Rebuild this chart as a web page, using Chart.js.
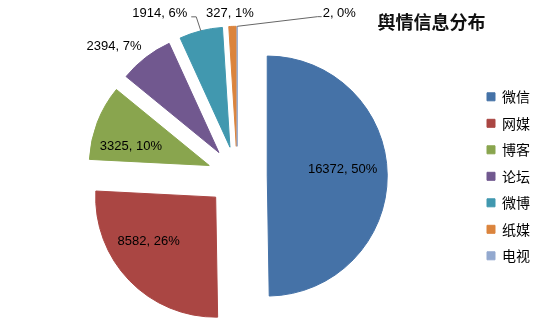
<!DOCTYPE html>
<html>
<head>
<meta charset="utf-8">
<script src="https://cdn.jsdelivr.net/npm/chart.js@4.4.0/dist/chart.umd.min.js"></script>
<style>
  body { margin: 0; background: #fff; }
</style>
</head>
<body>
<canvas id="sentimentPie" width="542" height="323"></canvas>
<script>
var sources = ['微信', '网媒', '博客', '论坛', '微博', '纸媒', '电视'];
var counts = [16372, 8582, 3325, 2394, 1914, 327, 2];
var sliceColors = ['#4572A7', '#AA4643', '#89A54E', '#71588F', '#4198AF', '#DB843D', '#93A9CF'];

// every slice is pulled out from the middle by this much (px)
var EXPLODE = 30;

// where the value labels sit: angle clockwise from 12 o'clock, distance in radii
var labelSpots = [
    {angle: 86, dist: 0.88},
    {angle: 233.6, dist: 0.917},
    {angle: 285.6, dist: 0.92},
    {angle: 316.6, dist: 1.495},
    {angle: 334.5, dist: 1.5, leader: 'right'},
    {angle: 357.4, dist: 1.355},
    {angle: 32.1, dist: 1.6, leader: 'left'}
];

var explodePlugin = {
    id: 'explode',
    afterLayout: function(chart) {
        // excel lets the title run a little past the plot, over the legend
        if (chart.titleBlock) chart.titleBlock.right += 11;
    },
    afterDatasetUpdate: function(chart, args) {
        args.meta.data.forEach(function(arc) {
            var mid = (arc.startAngle + arc.endAngle) / 2;
            arc.x += Math.cos(mid) * EXPLODE;
            arc.y += Math.sin(mid) * EXPLODE;
        });
    }
};

var valueLabels = {
    id: 'valueLabels',
    afterDatasetsDraw: function(chart) {
        var ctx = chart.ctx;
        var arcs = chart.getDatasetMeta(0).data;
        var total = counts.reduce(function(a, b) { return a + b; }, 0);
        var first = arcs[0];
        var firstMid = (first.startAngle + first.endAngle) / 2;
        var cx = first.x - Math.cos(firstMid) * EXPLODE;
        var cy = first.y - Math.sin(firstMid) * EXPLODE;
        var R = first.outerRadius;

        ctx.save();
        ctx.font = '13px "Liberation Sans", Arial, sans-serif';
        ctx.textAlign = 'center';
        ctx.textBaseline = 'middle';
        arcs.forEach(function(arc, i) {
            var spot = labelSpots[i];
            var a = spot.angle * Math.PI / 180;
            var x = cx + Math.sin(a) * spot.dist * R;
            var y = cy - Math.cos(a) * spot.dist * R;
            var text = counts[i] + ', ' + Math.round(counts[i] / total * 100) + '%';
            if (spot.leader) {
                var mid = (arc.startAngle + arc.endAngle) / 2;
                var w = ctx.measureText(text).width;
                var sx = arc.x + Math.cos(mid) * R;
                var sy = arc.y + Math.sin(mid) * R;
                var ly = y + 3;
                var ex = spot.leader === 'right' ? x + w / 2 + 4 : x - w / 2 - 1;
                var kx = spot.leader === 'right' ? ex + 5 : ex - 4;
                ctx.beginPath();
                ctx.moveTo(sx, sy);
                ctx.lineTo(kx, ly);
                ctx.lineTo(ex, ly);
                ctx.strokeStyle = '#666';
                ctx.lineWidth = 1;
                ctx.stroke();
            }
            ctx.fillStyle = '#000';
            ctx.fillText(text, x, y);
        });
        ctx.restore();
    }
};

new Chart('sentimentPie', {
    type: 'pie',
    data: {
        labels: sources,
        datasets: [{
            data: counts,
            backgroundColor: sliceColors,
            borderColor: sliceColors,
            borderWidth: 1
        }]
    },
    options: {
        responsive: false,
        devicePixelRatio: 1,
        animation: false,
        events: [],
        radius: 120,
        layout: {
            padding: {left: 0, right: 2, top: 0, bottom: 3}
        },
        plugins: {
            tooltip: {enabled: false},
            title: {
                display: true,
                text: '舆情信息分布',
                position: 'top',
                align: 'end',
                fullSize: false,
                color: '#111',
                font: {family: '"Noto Sans CJK SC"', size: 18, weight: 'bold'},
                padding: {top: 11, bottom: 0}
            },
            legend: {
                position: 'right',
                fullSize: false,
                align: 'center',
                labels: {
                    boxWidth: 8,
                    boxHeight: 8,
                    padding: 12.5,
                    color: '#000',
                    font: {family: '"Noto Sans CJK SC"', size: 14}
                }
            }
        }
    },
    plugins: [explodePlugin, valueLabels]
});
</script>
</body>
</html>
